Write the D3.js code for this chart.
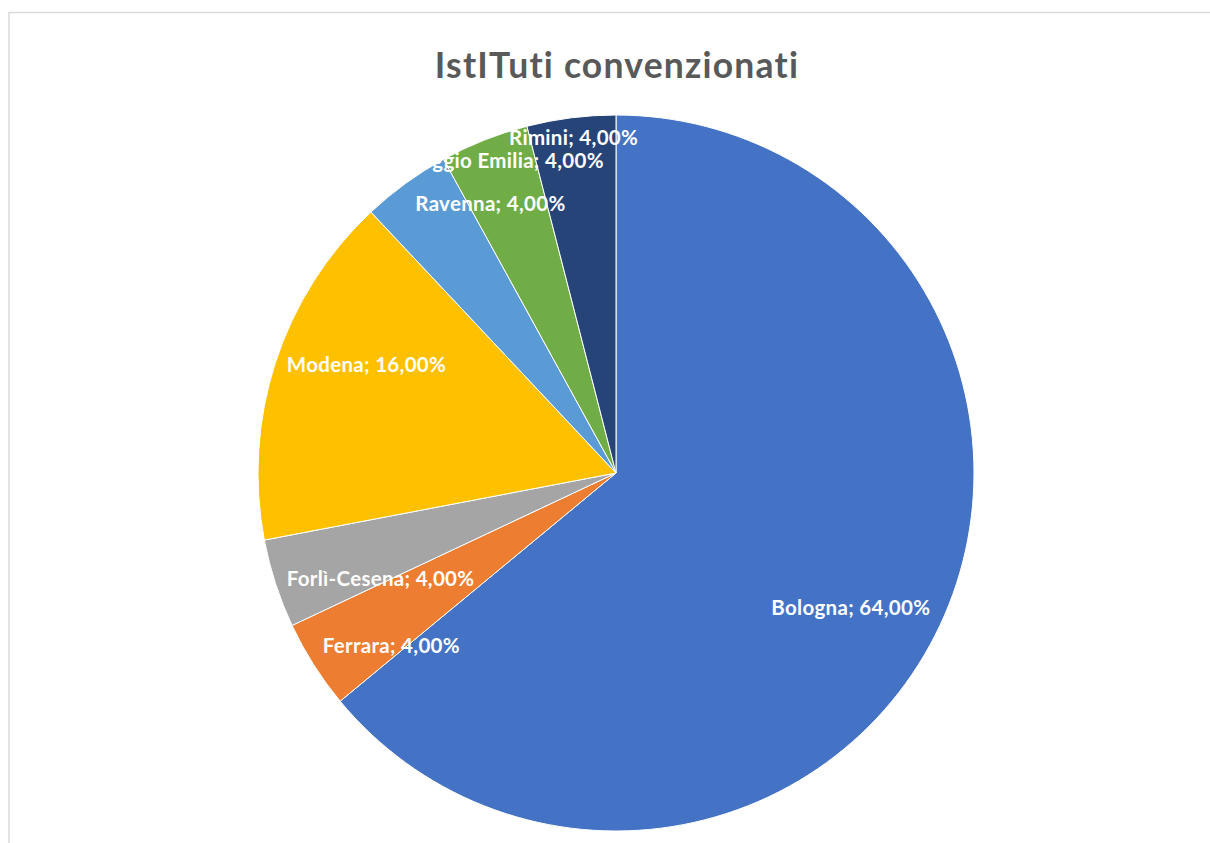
<!DOCTYPE html>
<html>
<head>
<meta charset="utf-8">
<script src="https://cdn.jsdelivr.net/npm/d3@7"></script>
<style>
  body { margin: 0; background: #fff; }
</style>
</head>
<body>
<script>
// data
var categories = ["Bologna", "Ferrara", "Forlì-Cesena", "Modena", "Ravenna", "Reggio Emilia", "Rimini"];
var values = [64, 4, 4, 16, 4, 4, 4];
var colors = ["#4472C4", "#ED7D31", "#A5A5A5", "#FFC000", "#5B9BD5", "#70AD47", "#264478"];
var title = "IstITuti convenzionati";

// label placement (best fit, like excel): angle shift in degrees, radius fraction
var labelFit = {
    "Bologna": [4.5, 0.755],
    "Ferrara": [-5, 0.79],
    "Forlì-Cesena": [-6, 0.72],
    "Modena": [5.5, 0.76],
    "Ravenna": [11, 0.83],
    "Reggio Emilia": [2.2, 0.925],
    "Rimini": [0, 0.945]
};

var W = 1210, H = 843;
var cx = 616, cy = 473, R = 358;

var svg = d3.select("body").append("svg")
    .attr("width", W)
    .attr("height", H);

// chart frame
svg.append("path")
    .attr("d", "M9," + H + " V12.5 H" + W)
    .attr("fill", "none")
    .attr("stroke", "#d9d9d9")
    .attr("stroke-width", 1.5);

svg.append("text")
    .attr("x", 617)
    .attr("y", 78)
    .attr("text-anchor", "middle")
    .attr("font-family", "Lato, 'Open Sans', sans-serif")
    .attr("font-weight", "bold")
    .attr("font-size", "35.5px")
    .attr("letter-spacing", "1.2px")
    .attr("fill", "#595959")
    .text(title);

var data = categories.map((c, i) => ({name: c, value: values[i], color: colors[i]}));

var pie = d3.pie().sort(null).value((d) => d.value);
var arc = d3.arc().innerRadius(0).outerRadius(R);

var g = svg.append("g")
    .attr("transform", "translate(" + cx + "," + cy + ")");

var arcs = pie(data);

g.selectAll("path.slice").data(arcs)
    .enter()
    .append("path")
        .attr("class", "slice")
        .attr("d", arc)
        .attr("fill", (d) => d.data.color)
        .attr("stroke", "#fff")
        .attr("stroke-width", 1);

//labels
g.selectAll("text.lbl").data(arcs)
    .enter()
    .append("text")
        .attr("class", "lbl")
        .attr("transform", (d) => {
            var fit = labelFit[d.data.name];
            var a = (d.startAngle + d.endAngle) / 2 + fit[0] * Math.PI / 180;
            var r = R * fit[1];
            return "translate(" + (r * Math.sin(a)) + "," + (-r * Math.cos(a)) + ")";
        })
        .attr("text-anchor", "middle")
        .attr("dy", "0.38em")
        .attr("font-family", "Lato, 'Open Sans', sans-serif")
        .attr("font-weight", "bold")
        .attr("font-size", "20.5px")
        .attr("letter-spacing", "0.3px")
        .attr("fill", "#fff")
        .text((d) => d.data.name + "; " + d3.format(".2f")(d.data.value).replace(".", ",") + "%");
</script>
</body>
</html>
